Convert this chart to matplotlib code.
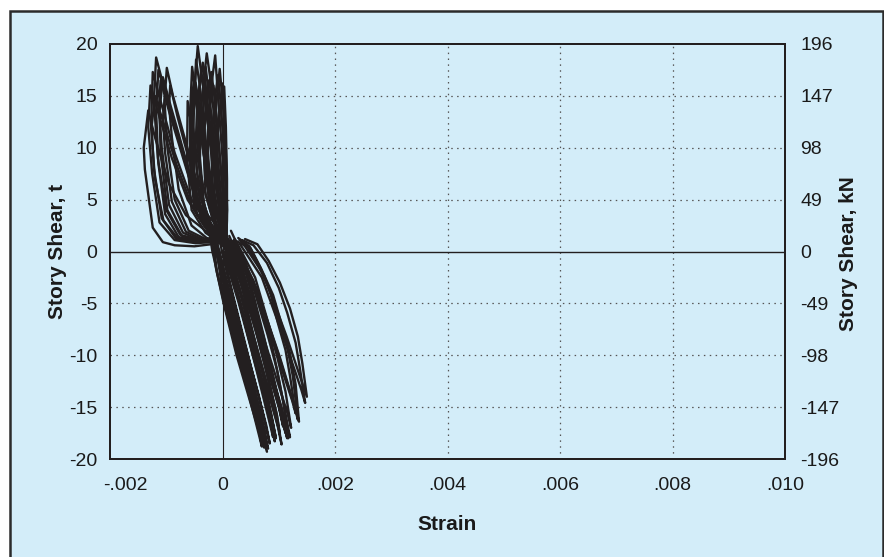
import matplotlib
matplotlib.use('Agg')
import matplotlib.pyplot as plt
from matplotlib.patches import Rectangle
from matplotlib.transforms import ScaledTranslation

plt.rcParams['font.family'] = ['Liberation Sans', 'DejaVu Sans']
plt.rcParams['axes.unicode_minus'] = False

# strain axis is drawn in units of 1e-3
strain_ticks = [-2, 0, 2, 4, 6, 8, 10]
strain_labels = ['-.002', '0', '.002', '.004', '.006', '.008', '.010']
shear_t_ticks = [-20, -15, -10, -5, 0, 5, 10, 15, 20]
shear_kn_ticks = [-196, -147, -98, -49, 0, 49, 98, 147, 196]

# cycles pulled to negative shear (strain in 1e-3, shear in t)
pull_cycles = [
    ([-0.15, -0.10, 0.05, 0.30, 0.60, 0.79, 0.72, 0.45, 0.15, 0.00, -0.10],
     [0.5, -2.0, -5.5, -10.5, -16.0, -19.3, -17.0, -11.0, -5.0, -1.5, 1.0]),
    ([-0.10, 0.00, 0.20, 0.50, 0.70, 0.63, 0.35, 0.10, -0.05],
     [0.8, -2.5, -8.0, -14.5, -18.8, -16.5, -10.5, -4.5, -1.0]),
    ([0.00, 0.15, 0.40, 0.70, 0.90, 0.85, 0.55, 0.25, 0.05],
     [1.2, -1.5, -7.0, -13.5, -17.9, -16.0, -10.0, -4.0, -0.5]),
    ([0.10, 0.35, 0.60, 0.85, 0.99, 0.92, 0.62, 0.30, 0.05],
     [1.2, -1.5, -7.0, -13.0, -16.9, -15.5, -9.5, -3.5, 0.5]),
    ([0.15, 0.45, 0.75, 1.00, 1.15, 1.06, 0.75, 0.40, 0.10],
     [1.0, -2.0, -8.5, -14.5, -18.0, -16.0, -10.0, -3.5, 0.5]),
    ([0.20, 0.42, 0.60, 0.80, 0.97, 1.20, 1.12, 0.80, 0.45, 0.15],
     [1.1, -1.2, -4.4, -8.0, -11.4, -17.9, -16.5, -10.5, -4.0, 0.3]),
    ([0.25, 0.45, 0.65, 0.85, 1.00, 1.15, 1.25, 1.34, 1.28, 1.00, 0.60, 0.20],
     [1.0, 0.4, -1.5, -3.8, -6.5, -9.2, -12.0, -16.2, -15.0, -10.0, -3.5, 0.5]),
    ([0.35, 0.55, 0.79, 1.00, 1.15, 1.30, 1.38, 1.47, 1.40, 1.10, 0.70, 0.30],
     [1.1, 0.6, -1.1, -3.5, -5.9, -8.8, -11.4, -14.6, -13.3, -8.5, -2.5, 0.8]),
    ([-0.05, 0.10, 0.35, 0.65, 0.84, 0.78, 0.50, 0.20, 0.00],
     [1.0, -2.5, -8.0, -14.0, -18.5, -16.8, -11.0, -4.5, 0.0]),
    ([0.05, 0.30, 0.55, 0.80, 0.95, 0.88, 0.60, 0.30, 0.05],
     [1.3, -2.5, -8.0, -13.8, -18.0, -16.2, -10.5, -4.5, 0.5]),
    ([0.10, 0.40, 0.70, 0.95, 1.08, 1.00, 0.70, 0.35, 0.08],
     [1.2, -2.5, -8.5, -13.5, -16.9, -15.0, -9.5, -3.5, 0.8]),
    ([0.18, 0.55, 0.88, 1.08, 1.17, 1.10, 0.78, 0.42, 0.12],
     [1.0, -2.8, -9.0, -14.5, -18.0, -16.4, -10.8, -4.2, 0.6]),
    ([0.30, 0.50, 0.70, 0.90, 1.05, 1.20, 1.30, 1.36, 1.30, 1.02, 0.62, 0.25],
     [1.1, 0.3, -1.8, -4.2, -7.0, -9.8, -12.8, -16.4, -15.2, -10.2, -3.8, 0.7]),
    ([-0.12, -0.02, 0.18, 0.45, 0.66, 0.60, 0.36, 0.12, -0.08],
     [0.6, -3.0, -7.5, -13.0, -17.2, -15.5, -10.0, -4.5, -0.5]),
    ([-0.20, -0.12, 0.02, 0.25, 0.52, 0.74, 0.68, 0.42, 0.12, -0.05, -0.15],
     [1.5, -1.5, -5.0, -10.0, -15.0, -18.9, -16.8, -11.0, -4.8, -1.2, 1.2]),
    ([0.02, 0.22, 0.48, 0.75, 0.93, 0.87, 0.58, 0.28, 0.02],
     [0.9, -2.0, -7.5, -13.5, -18.3, -16.5, -10.8, -4.8, -0.2]),
    ([0.08, 0.28, 0.52, 0.78, 0.97, 1.02, 0.95, 0.66, 0.34, 0.08],
     [1.4, -1.2, -6.0, -11.5, -15.8, -17.6, -15.8, -10.2, -4.2, 0.2]),
    ([0.12, 0.42, 0.72, 0.98, 1.12, 1.05, 0.74, 0.38, 0.10],
     [1.5, -2.2, -8.0, -13.8, -17.5, -15.8, -10.0, -3.8, 0.4]),
    ([0.22, 0.58, 0.90, 1.12, 1.22, 1.15, 0.84, 0.48, 0.18],
     [1.2, -2.5, -8.5, -13.5, -17.0, -15.5, -10.2, -4.0, 0.6]),
    ([-0.08, 0.05, 0.28, 0.58, 0.76, 0.70, 0.44, 0.16, -0.02],
     [0.4, -3.5, -8.5, -14.5, -18.0, -16.0, -10.5, -4.5, -0.8]),
    ([0.28, 0.48, 0.68, 0.86, 0.98, 1.12, 1.20, 1.30, 1.24, 0.95, 0.56, 0.22],
     [1.3, 0.5, -1.6, -4.2, -6.8, -9.5, -12.0, -15.6, -14.4, -9.6, -3.4, 0.9]),
    ([0.40, 0.62, 0.82, 1.02, 1.20, 1.34, 1.42, 1.50, 1.43, 1.14, 0.74, 0.35],
     [1.2, 0.7, -0.9, -3.0, -5.5, -8.2, -10.8, -14.0, -12.9, -8.2, -2.3, 0.9]),
    ([-0.25, -0.18, -0.05, 0.15, 0.40, 0.62, 0.81, 0.75, 0.48, 0.18, -0.02, -0.20],
     [2.5, 0.0, -3.0, -7.0, -11.5, -15.5, -19.0, -17.2, -11.5, -5.5, -2.0, 1.8]),
    ([-0.05, 0.10, 0.30, 0.55, 0.78, 0.91, 0.86, 0.56, 0.26, 0.04],
     [2.8, 0.5, -3.5, -9.0, -14.0, -17.0, -15.6, -10.0, -4.2, 0.0]),
    ([0.15, 0.32, 0.55, 0.80, 1.02, 1.12, 1.06, 0.76, 0.42, 0.14],
     [2.0, 0.0, -4.5, -10.0, -14.8, -16.8, -15.2, -9.8, -3.6, 0.8]),
    ([-0.18, -0.08, 0.10, 0.38, 0.62, 0.72, 0.66, 0.40, 0.14, -0.06],
     [2.2, -0.8, -5.0, -10.8, -15.8, -17.8, -16.0, -10.2, -4.4, 0.2]),
    ([0.12, 0.30, 0.50, 0.75, 0.96, 1.05, 0.98, 0.68, 0.35, 0.10],
     [0.2, -1.8, -5.8, -11.0, -15.6, -18.6, -16.8, -11.0, -4.6, -0.6]),
]

# narrow cycles pushed to positive shear near zero strain
push_near_cycles = [
    ([0.05, -0.20, -0.45, -0.57, -0.58, -0.54, -0.45, -0.30, -0.15, -0.02, 0.05],
     [0.5, 1.8, 3.5, 8.0, 13.0, 17.8, 14.0, 8.0, 4.0, 2.0, 0.5]),
    ([0.05, -0.15, -0.38, -0.50, -0.52, -0.48, -0.44, -0.36, -0.20, -0.08, 0.02, 0.06],
     [0.3, 1.5, 3.0, 7.0, 13.0, 17.0, 19.8, 16.5, 10.0, 5.0, 2.0, 0.0]),
    ([0.05, -0.15, -0.32, -0.40, -0.38, -0.28, -0.20, -0.10, -0.02, 0.04],
     [0.5, 2.0, 4.0, 9.0, 14.0, 19.1, 16.0, 10.0, 5.0, 1.5]),
    ([0.06, -0.10, -0.25, -0.28, -0.22, -0.13, -0.08, 0.00, 0.04, 0.06],
     [0.5, 2.0, 5.0, 10.0, 15.0, 18.9, 15.0, 9.0, 4.0, 1.0]),
    ([0.07, -0.05, -0.15, -0.12, 0.03, 0.06, 0.08, 0.08, 0.06],
     [0.5, 2.5, 6.0, 11.0, 15.9, 12.0, 7.0, 3.0, 0.5]),
    ([0.04, -0.18, -0.40, -0.48, -0.45, -0.35, -0.28, -0.15, -0.05, 0.03],
     [0.8, 2.2, 4.5, 9.5, 14.5, 18.2, 15.0, 9.0, 4.0, 1.2]),
    ([0.05, -0.12, -0.30, -0.34, -0.28, -0.20, -0.12, -0.04, 0.03, 0.07],
     [0.4, 2.2, 5.5, 10.5, 14.5, 17.3, 14.0, 8.5, 4.0, 0.8]),
    ([0.03, -0.25, -0.50, -0.58, -0.55, -0.48, -0.38, -0.22, -0.08, 0.03],
     [0.6, 2.0, 4.0, 9.0, 13.0, 16.3, 13.0, 7.5, 3.5, 1.0]),
    ([0.06, -0.06, -0.18, -0.20, -0.14, -0.08, -0.02, 0.04, 0.07, 0.07],
     [0.3, 2.5, 6.0, 10.5, 14.5, 17.0, 13.5, 8.0, 3.5, 0.8]),
    ([0.02, -0.30, -0.55, -0.63, -0.62, -0.52, -0.35, -0.18, -0.05, 0.03],
     [0.6, 1.8, 4.0, 9.0, 14.5, 11.0, 6.5, 3.2, 1.6, 0.6]),
    ([0.08, -0.08, -0.22, -0.30, -0.32, -0.26, -0.22, -0.14, -0.06, 0.02, 0.08],
     [0.2, 1.8, 4.5, 8.5, 12.5, 16.5, 14.0, 9.5, 5.0, 2.0, 0.2]),
    ([0.04, -0.22, -0.42, -0.53, -0.56, -0.50, -0.41, -0.26, -0.12, -0.02, 0.04],
     [0.8, 2.0, 4.0, 8.5, 12.5, 15.5, 12.5, 7.5, 3.8, 2.0, 0.8]),
    ([0.06, -0.04, -0.10, -0.09, -0.03, 0.00, 0.04, 0.07, 0.08, 0.07],
     [0.5, 3.0, 7.0, 11.0, 14.5, 16.2, 12.5, 8.0, 4.0, 1.0]),
    ([0.03, -0.20, -0.36, -0.44, -0.42, -0.38, -0.30, -0.18, -0.06, 0.03],
     [0.9, 2.5, 5.0, 10.0, 15.0, 17.5, 14.0, 8.5, 4.2, 1.3]),
    ([0.05, -0.10, -0.22, -0.26, -0.22, -0.16, -0.10, -0.02, 0.04, 0.07],
     [0.6, 2.4, 5.5, 10.0, 14.0, 16.0, 12.5, 7.5, 3.5, 0.9]),
    ([0.02, -0.28, -0.48, -0.56, -0.55, -0.50, -0.42, -0.28, -0.12, 0.00],
     [1.0, 2.6, 4.8, 10.0, 14.5, 16.8, 13.2, 8.0, 4.0, 1.5]),
    ([0.06, -0.14, -0.34, -0.42, -0.40, -0.33, -0.25, -0.12, -0.02, 0.05],
     [0.2, 1.6, 3.8, 8.8, 13.5, 16.0, 12.8, 7.8, 3.6, 1.0]),
    ([0.07, -0.02, -0.12, -0.16, -0.10, -0.05, 0.01, 0.06, 0.08, 0.06],
     [1.0, 2.8, 6.5, 11.0, 14.8, 17.6, 14.0, 8.5, 4.0, 1.5]),
    ([0.12, 0.00, -0.25, -0.48, -0.56, -0.55, -0.50, -0.42, -0.28, -0.12, 0.02, 0.12],
     [-0.8, 1.0, 2.6, 5.0, 10.0, 14.0, 15.5, 12.5, 7.5, 3.8, 1.5, -0.5]),
    ([0.15, 0.02, -0.15, -0.30, -0.36, -0.30, -0.24, -0.12, -0.02, 0.06, 0.14],
     [-1.0, 1.2, 3.2, 7.0, 12.0, 17.8, 15.0, 9.5, 5.0, 2.0, -0.6]),
    ([0.10, -0.05, -0.28, -0.45, -0.52, -0.47, -0.40, -0.30, -0.15, -0.04, 0.08],
     [0.0, 2.2, 3.6, 7.5, 12.0, 18.5, 15.8, 9.8, 4.8, 2.6, 0.2]),
]

# wider cycles pushed to positive shear, further into negative strain
push_far_cycles = [
    ([-0.05, -0.50, -0.85, -1.06, -1.24, -1.38, -1.40, -1.32, -1.20, -0.95, -0.65, -0.30, 0.00],
     [0.8, 0.5, 0.6, 0.9, 2.3, 7.9, 10.0, 13.6, 11.0, 6.5, 3.5, 2.0, 1.0]),
    ([0.00, -0.45, -0.80, -1.05, -1.20, -1.27, -1.24, -1.10, -0.85, -0.55, -0.25, 0.00],
     [1.2, 1.0, 1.3, 3.0, 7.0, 12.0, 17.3, 14.5, 9.5, 5.0, 2.5, 1.0]),
    ([0.00, -0.40, -0.75, -1.00, -1.15, -1.22, -1.18, -1.05, -0.80, -0.58, -0.35, -0.05],
     [1.3, 1.1, 1.6, 4.0, 9.0, 14.5, 18.7, 16.0, 11.5, 6.9, 3.0, 1.5]),
    ([0.00, -0.35, -0.70, -0.95, -1.08, -1.13, -1.10, -0.95, -0.70, -0.45, -0.20, 0.00],
     [1.1, 1.0, 1.8, 4.5, 10.0, 14.0, 16.5, 13.5, 9.0, 4.5, 2.2, 1.2]),
    ([0.00, -0.30, -0.60, -0.85, -0.98, -1.03, -0.99, -0.88, -0.65, -0.42, -0.22, 0.00],
     [1.2, 1.2, 2.0, 5.0, 10.0, 14.5, 17.7, 15.0, 10.5, 6.0, 2.8, 1.3]),
    ([0.00, -0.28, -0.55, -0.78, -0.90, -0.95, -0.93, -0.80, -0.58, -0.35, -0.15, 0.02],
     [1.0, 1.3, 2.5, 6.0, 11.0, 14.0, 16.0, 13.0, 8.5, 4.5, 2.0, 1.0]),
    ([-0.02, -0.38, -0.72, -0.98, -1.10, -1.12, -1.06, -0.92, -0.70, -0.48, -0.25, 0.00],
     [0.9, 0.9, 1.5, 4.0, 9.5, 13.5, 16.8, 14.0, 9.8, 5.5, 2.6, 1.1]),
    ([0.00, -0.48, -0.85, -1.12, -1.25, -1.32, -1.28, -1.15, -0.90, -0.62, -0.32, -0.02],
     [1.0, 0.8, 1.1, 2.8, 7.5, 12.0, 16.0, 13.5, 9.0, 5.0, 2.4, 1.1]),
    ([0.00, -0.42, -0.78, -1.02, -1.14, -1.18, -1.14, -1.00, -0.76, -0.50, -0.28, -0.02],
     [1.1, 0.9, 1.4, 3.6, 8.5, 13.5, 17.5, 15.0, 10.5, 6.0, 2.8, 1.2]),
    ([-0.02, -0.33, -0.65, -0.90, -1.02, -1.06, -1.02, -0.88, -0.66, -0.44, -0.22, 0.00],
     [1.0, 1.1, 1.9, 4.8, 9.5, 12.8, 15.2, 12.5, 8.6, 4.8, 2.4, 1.1]),
    ([0.00, -0.46, -0.82, -1.08, -1.22, -1.26, -1.20, -1.06, -0.82, -0.56, -0.30, 0.00],
     [1.2, 0.9, 1.2, 3.2, 8.0, 12.0, 15.0, 12.6, 8.4, 4.6, 2.3, 1.1]),
]

bg = '#d3edf9'
ink = '#231f20'
W, H = 884, 557

fig = plt.figure(figsize=(W / 100, H / 100), dpi=100, facecolor='white')

# light blue panel with dark border, running off the bottom edge
panel = Rectangle((9.5 / W, -0.02), (882.5 - 9.5) / W, 1 - 11 / H + 0.02,
                  transform=fig.transFigure, facecolor=bg,
                  edgecolor='#2b2b2b', linewidth=1.8, zorder=-10)
fig.patches.append(panel)

ax = fig.add_axes([110 / W, 1 - 459 / H, (785 - 110) / W, (459 - 44) / H])
ax.set_facecolor(bg)
ax.set_xlim(-2, 10)
ax.set_ylim(-20, 20)

for x in [2, 4, 6, 8]:
    ax.axvline(x, color='#555555', lw=0.9, ls=(0, (1.2, 3.5)), zorder=1)
for y in [-15, -10, -5, 5, 10, 15]:
    ax.axhline(y, color='#555555', lw=0.9, ls=(0, (1.2, 3.5)), zorder=1)
ax.axvline(0, color=ink, lw=0.8, zorder=1)
ax.axhline(0, color=ink, lw=1.0, zorder=1)

for family in (pull_cycles, push_near_cycles, push_far_cycles):
    for strain, shear in family:
        ax.plot(strain, shear, color=ink, lw=1.7, solid_joinstyle='round',
                solid_capstyle='round', zorder=3)

ax.set_xticks(strain_ticks)
ax.set_xticklabels(strain_labels)
ax.set_yticks(shear_t_ticks)
ax.tick_params(axis='x', length=0, pad=13, labelsize=14, colors='#1a1a1a')
ax.tick_params(axis='y', length=0, pad=9, labelsize=14, colors='#1a1a1a')
for s in ax.spines.values():
    s.set_linewidth(1.4)
    s.set_color(ink)

# the first strain label sits a little right of its tick
first = ax.get_xticklabels()[0]
first.set_transform(first.get_transform() + ScaledTranslation(0.15, 0, fig.dpi_scale_trans))

ax2 = ax.twinx()
ax2.set_ylim(-196, 196)
ax2.set_yticks(shear_kn_ticks)
ax2.tick_params(axis='y', length=0, pad=11, labelsize=14, colors='#1a1a1a')
ax2.patch.set_visible(False)
for s in ax2.spines.values():
    s.set_linewidth(1.4)
    s.set_color(ink)

fig.text(57.5 / W, 1 - 251.5 / H, 'Story Shear, t', rotation=90, ha='center',
         va='center', fontsize=15, fontweight='bold', color='#1a1a1a')
fig.text(848 / W, 1 - 253.5 / H, 'Story Shear, kN', rotation=90, ha='center',
         va='center', fontsize=15, fontweight='bold', color='#1a1a1a')
fig.text(447.5 / W, 1 - 525 / H, 'Strain', ha='center', va='center',
         fontsize=15, fontweight='bold', color='#1a1a1a')

fig.savefig('out.png', dpi=100, facecolor='white')
